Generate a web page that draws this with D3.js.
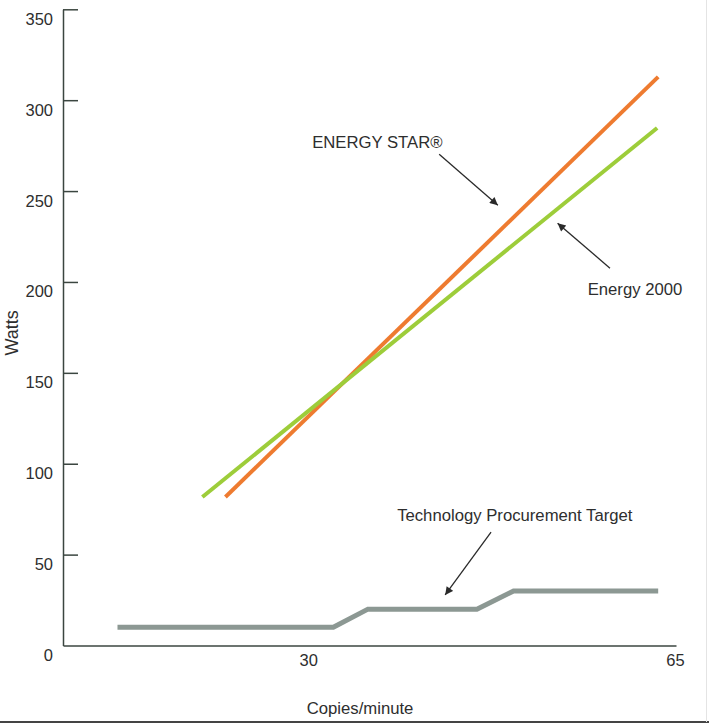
<!DOCTYPE html>
<html>
<head>
<meta charset="utf-8">
<script src="https://cdn.jsdelivr.net/npm/d3@7"></script>
<style>
  html, body { margin: 0; padding: 0; background: #fff; }
  svg { display: block; }
  text { font-family: "Liberation Sans", Arial, Helvetica, sans-serif; fill: #2e2e2e; }
</style>
</head>
<body>
<svg id="chart" width="709" height="725"></svg>
<script>
// ---- data ----
const yTicks = [0, 50, 100, 150, 200, 250, 300, 350];
const xTickLabels = [30, 65];

const copiesEnergyStar = [22.1, 63.4];
const wattsEnergyStar  = [81.7, 312.8];

const copiesEnergy2000 = [19.9, 63.3];
const wattsEnergy2000  = [81.7, 284.7];

const copiesTarget = [11.8, 32.4, 35.7, 46.1, 49.6, 63.4];
const wattsTarget  = [10, 10, 20, 20, 30, 30];

const seriesNames = ["ENERGY STAR®", "Energy 2000", "Technology Procurement Target"];

// ---- layout ----
const W = 709, H = 725;
const svg = d3.select("#chart");

const x = d3.scaleLinear().domain([6.6, 65.1]).range([63, 676]);
const y = d3.scaleLinear().domain([0, 350]).range([645.5, 9.3]);

const axisColor = "#3b4640";

// defs: arrow marker
svg.append("defs").append("marker")
  .attr("id", "arrow")
  .attr("viewBox", "0 0 10 10")
  .attr("refX", 10).attr("refY", 5)
  .attr("markerWidth", 10).attr("markerHeight", 8)
  .attr("markerUnits", "userSpaceOnUse")
  .attr("orient", "auto")
  .append("path")
  .attr("d", "M0,0 L10,5 L0,10 Z")
  .attr("fill", "#2a2a2a");

// y axis
const yAxis = d3.axisLeft(y)
  .tickValues(yTicks)
  .tickFormat(d3.format("d"))
  .tickSizeInner(-15)
  .tickSizeOuter(0)
  .tickPadding(10);

const gy = svg.append("g").attr("transform", `translate(${x.range()[0]},0)`).call(yAxis);
gy.select(".domain").attr("stroke", axisColor).attr("stroke-width", 1.5);
gy.selectAll(".tick line").attr("stroke", axisColor).attr("stroke-width", 1.5);
gy.selectAll(".tick text")
  .attr("font-size", 16.5)
  .attr("dy", "15px")
  .style("fill", "#2e2e2e")
  .attr("font-family", "Liberation Sans, Arial, sans-serif");
gy.selectAll(".tick").filter(d => d === 0).select("line").remove();

// x axis
const xAxis = d3.axisBottom(x)
  .tickValues(xTickLabels)
  .tickFormat(d3.format("d"))
  .tickSizeInner(0)
  .tickSizeOuter(0)
  .tickPadding(9);

const gx = svg.append("g").attr("transform", `translate(0,${y(0)})`).call(xAxis);
gx.select(".domain").attr("stroke", axisColor).attr("stroke-width", 1.5);
gx.selectAll(".tick text")
  .attr("font-size", 16.5)
  .style("fill", "#2e2e2e")
  .attr("font-family", "Liberation Sans, Arial, sans-serif");

// axis titles
svg.append("text")
  .attr("transform", `translate(18,${y(172)}) rotate(-90)`)
  .attr("text-anchor", "middle")
  .attr("font-size", 18)
  .text("Watts");

svg.append("text")
  .attr("x", (x(30) + x(39.9)) / 2)
  .attr("y", y(0) + 68.5)
  .attr("text-anchor", "middle")
  .attr("font-size", 16.7)
  .text("Copies/minute");

// bottom rule and faint right border
svg.append("line")
  .attr("x1", 0).attr("x2", W)
  .attr("y1", H - 3).attr("y2", H - 3)
  .attr("stroke", "#444").attr("stroke-width", 2);
svg.append("line")
  .attr("x1", W - 2.5).attr("x2", W - 2.5)
  .attr("y1", 0).attr("y2", H - 3)
  .attr("stroke", "#e4e4e4").attr("stroke-width", 1);

// lines
const line = d3.line().x(d => x(d[0])).y(d => y(d[1]));

function drawSeries(xs, ys, color, width) {
  svg.append("path")
    .datum(d3.zip(xs, ys))
    .attr("d", line)
    .attr("fill", "none")
    .attr("stroke", color)
    .attr("stroke-width", width)
    .attr("stroke-linejoin", "miter")
    .attr("stroke-linecap", "butt");
}

drawSeries(copiesTarget, wattsTarget, "#8c9893", 5);
drawSeries(copiesEnergyStar, wattsEnergyStar, "#ee7b30", 4);
drawSeries(copiesEnergy2000, wattsEnergy2000, "#9dcd3a", 4);

// annotations (positions in data units, converted by the scales)
const annotations = [
  { label: seriesNames[0], tx: 30.38, ty: 273.9, ax1: 42.5, ay1: 270.3, ax2: 48.1, ay2: 242.2 },
  { label: seriesNames[1], tx: 56.67, ty: 192.6, ax1: 58.8, ay1: 207.6, ax2: 53.8, ay2: 232.3 },
  { label: seriesNames[2], tx: 38.49, ty: 68.5,  ax1: 47.45, ay1: 62.4, ax2: 43.07, ay2: 27.8 }
];

annotations.forEach(a => {
  svg.append("text")
    .attr("x", x(a.tx)).attr("y", y(a.ty))
    .attr("font-size", 16.7)
    .text(a.label);
  svg.append("line")
    .attr("x1", x(a.ax1)).attr("y1", y(a.ay1))
    .attr("x2", x(a.ax2)).attr("y2", y(a.ay2))
    .attr("stroke", "#2a2a2a").attr("stroke-width", 1.3)
    .attr("marker-end", "url(#arrow)");
});
</script>
</body>
</html>
